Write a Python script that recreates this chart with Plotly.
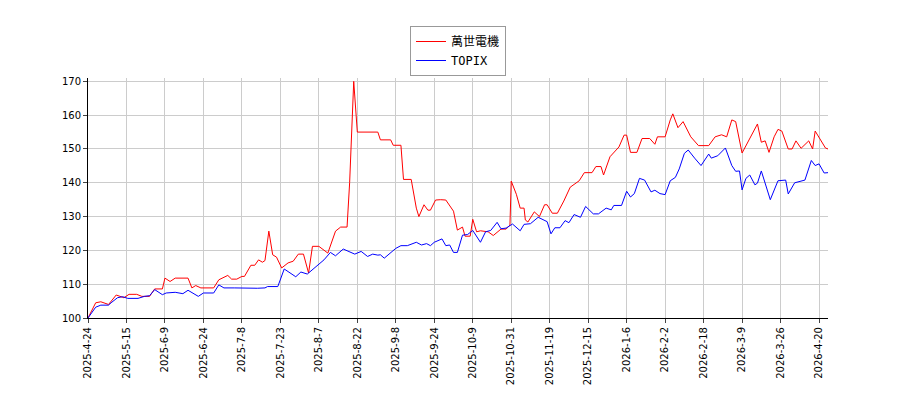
import plotly.graph_objects as go

tick_pos = list(range(0, 286, 15))
tick_labels = ["2025-4-24","2025-5-15","2025-6-9","2025-6-24","2025-7-8","2025-7-23","2025-8-7",
               "2025-8-22","2025-9-8","2025-9-24","2025-10-9","2025-10-31","2025-11-19","2025-12-15",
               "2026-1-6","2026-2-2","2026-2-18","2026-3-9","2026-3-26","2026-4-20"]

red_idx = [0,3,5,8,11,14,16,19,21,24,26,29,30,32,34,37,39,40.5,42,44,47,49,51,54.5,56,58,60,61,63.5,65,66.5,68,69,70.5,
           72,73.5,75.5,78,80,82,84,86,87.5,90,93.5,96.5,98.5,100.5,101,102,103,103.6,105,106,110,113,114,118,119,122,
           123,126,128,129,131,132.5,133.5,135.5,137.5,139.5,142.5,144,146,147,149,150,151.5,153,156,158,161,163,164.5,
           165,167,168.5,170,170.5,171.5,174,176,178,179,181,183,185.5,188,191.5,193.5,196.5,198,200,201,203.5,207,209,
           210,211.5,214,216,219,221,222,225,227,228,230,232,235,238,242,244.5,247,249,251,252.5,255,258,261,262.5,264,
           265.5,267.5,269,270.5,273,274.5,276,278,281,282.5,283.5,285.5,287.5,288.5]
red_val = [100,104.5,104.8,104,106.8,106,107,107,106.4,106.4,108.6,108.6,111.8,110.8,111.8,111.8,111.8,108.9,109.6,108.9,
           108.9,108.9,111.3,112.6,111.5,111.5,112.3,112.3,115.6,115.6,117.2,116.5,117,125.7,118.7,118,114.8,116.3,116.8,
           118.9,118.9,113.3,121.2,121.2,119.2,125.7,126.9,126.9,126.9,140,160,170,155,155,155,155,152.7,152.7,151.1,151.1,
           141,141,132.5,130,133.5,131.9,131.9,134.9,135,134.9,131.6,126,126.9,124.2,124.2,129.2,125.5,125.8,125.5,124.4,
           126.3,126.3,127.5,140.5,136.6,132.5,132.5,129,128.4,131.4,130,133.5,133.5,131,131,134.6,138.7,140.6,143,143,
           144.8,144.8,142.3,147.7,150.6,154.1,154.1,149,149,153.1,153.1,151.4,153.6,153.6,158.6,160.4,156.3,158.1,153.6,
           151,151,153.6,154.2,153.6,158.6,158.1,148.8,153.1,157.4,152,152.4,149,153.6,155.8,155.3,150,150,152.4,150.2,
           152.4,150,155.3,152.6,150.3,150]

blue_idx = [0,3,5,8,9,11.5,13.5,15.5,19.5,22,24,26,29,30.5,34,37,39,43,45,49,51,53,57,61.5,62.5,66,69,70,74,76.5,81,83,
            85.5,89,92,94.5,96.5,99.5,103,104,106.5,109,111,113,114,115.5,120,122,124.5,128,130,132,133.5,135,138,139.5,
            141,142.5,144,146,148,150,153,155,157,159.5,161,163,165.5,168.5,170,172.5,175.5,179,180.5,182,184,186,187.5,
            189.5,192,194,197,199,202,204,205,208,210,211.5,213,215,217,219.5,221,223,225,227,229,230.5,232.5,234,236.5,
            239,242,243,245.5,248.5,251,252.5,254,255,256.5,258,260,261,262.5,266,269,272,273,275.5,279.5,282,283.5,285,
            287,288.5]
blue_val = [100,103.2,103.8,103.8,104.5,106,106.3,105.8,105.8,106.4,106.6,108.4,106.9,107.4,107.6,107.2,108.2,106.4,107.4,
            107.4,109.8,108.9,108.9,108.8,108.9,108.8,108.9,109.3,109.3,114.5,112.2,113.6,113,115.2,117.2,119.4,118.4,120.4,
            119.4,118.9,119.7,118.2,118.9,118.6,118.7,117.7,120.6,121.4,121.4,122.4,121.6,122,121.4,122.4,123.4,121.4,121.6,
            119.4,119.4,124.5,124.7,125.9,122.4,125.5,125.9,128.3,126.4,126.6,127.8,125.8,127.7,127.9,129.8,128.5,124.9,126.7,
            126.7,128.8,128.2,130.6,129.8,133,130.8,130.8,132.5,132,133.3,133.3,137.5,135.8,136.8,141.3,140.8,137.3,137.8,136.8,
            136.5,140.6,141.6,144.1,148.7,149.7,147.3,145.1,148.5,147.3,148,150.3,145.1,143.4,143.5,137.9,141.3,142.3,139.4,
            139.9,143.5,135,140.6,140.8,136.7,140,140.8,146.6,145.1,145.6,142.9,143]

fig = go.Figure()
fig.add_trace(go.Scatter(x=red_idx, y=red_val, mode="lines", name="萬世電機",
                         line=dict(color="#ff0000", width=1)))
fig.add_trace(go.Scatter(x=blue_idx, y=blue_val, mode="lines", name="TOPIX",
                         line=dict(color="#0000ff", width=1)))
fig.update_layout(
    width=900, height=400, plot_bgcolor="white", paper_bgcolor="white",
    margin=dict(l=80, r=80, t=70, b=90, autoexpand=False),
    font=dict(family="DejaVu Sans", size=10, color="black"),
    legend=dict(x=0.5, xanchor="center", xref="container", y=0.955, yanchor="top", yref="container",
                bgcolor="white", bordercolor="#999999", borderwidth=1,
                font=dict(size=12, family="DejaVu Sans Mono, Noto Sans CJK JP")),
    xaxis=dict(range=[0, 288.5], tickmode="array", tickvals=tick_pos, ticktext=tick_labels,
               tickangle=-90, showgrid=True, gridcolor="#cccccc", showline=True, linecolor="black",
               ticks="outside", ticklen=4, zeroline=False),
    yaxis=dict(range=[100, 171], tickvals=[100,110,120,130,140,150,160,170], showgrid=True,
               gridcolor="#cccccc", showline=True, linecolor="black", ticks="outside", ticklen=4,
               zeroline=False),
)
fig.write_html("out.html")
